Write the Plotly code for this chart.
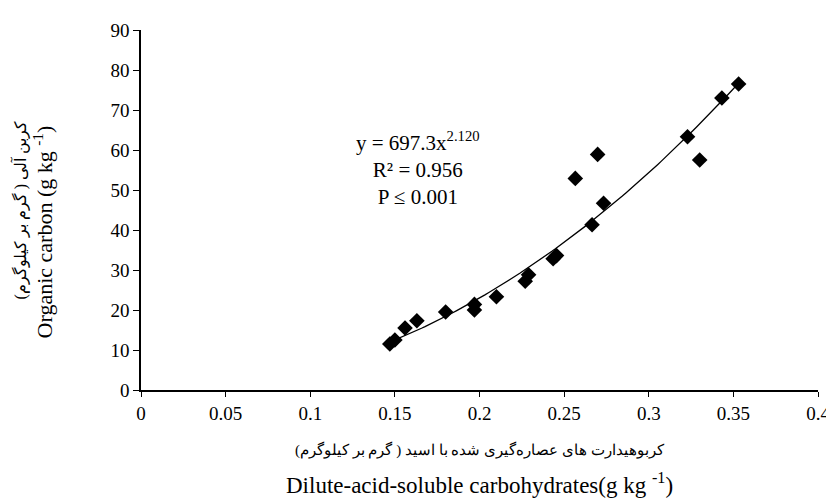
import numpy as np
import plotly.graph_objects as go

# Data
carbohydrates = [0.147, 0.150, 0.156, 0.163, 0.180, 0.197, 0.197, 0.210, 0.227, 0.229,
                 0.2435, 0.2455, 0.2665, 0.2733, 0.2566, 0.2698, 0.3229, 0.3301, 0.3432, 0.3531]
organic_carbon = [11.5, 12.5, 15.5, 17.3, 19.5, 20.0, 21.4, 23.3, 27.2, 28.8,
                  32.8, 33.6, 41.3, 46.7, 52.9, 58.9, 63.3, 57.5, 73.0, 76.5]

# Power trend-line from the reference equation
fit_a = 697.3
fit_b = 2.120
fit_x = np.linspace(min(carbohydrates), max(carbohydrates), 100)
fit_y = fit_a * fit_x ** fit_b

x_ticks = [0, 0.05, 0.1, 0.15, 0.2, 0.25, 0.3, 0.35, 0.4]
x_ticklabels = ["0", "0.05", "0.1", "0.15", "0.2", "0.25", "0.3", "0.35", "0.4"]
y_ticks = [0, 10, 20, 30, 40, 50, 60, 70, 80, 90]

FONT = "Liberation Serif, Times New Roman, serif"

fig = go.Figure()
fig.add_trace(go.Scatter(x=fit_x, y=fit_y, mode="lines",
                         line=dict(color="black", width=1.3), hoverinfo="skip"))
fig.add_trace(go.Scatter(x=carbohydrates, y=organic_carbon, mode="markers",
                         marker=dict(symbol="diamond", size=12, color="black")))

fig.update_layout(
    width=834, height=503,
    margin=dict(l=133, r=16, t=20, b=121),
    plot_bgcolor="white", paper_bgcolor="white",
    showlegend=False,
    font=dict(family=FONT, size=19, color="black"),
    xaxis=dict(range=[0, 0.4], tickvals=x_ticks, ticktext=x_ticklabels,
               showgrid=False, zeroline=False, showline=True, linecolor="black",
               linewidth=1.5, ticks="outside", ticklen=5, tickcolor="black",
               tickfont=dict(family=FONT, size=19)),
    yaxis=dict(range=[0, 90], tickvals=y_ticks,
               showgrid=False, zeroline=False, showline=True, linecolor="black",
               linewidth=1.5, ticks="outside", ticklen=6, tickcolor="black",
               tickfont=dict(family=FONT, size=19)),
)

fig.add_annotation(x=0.1635, y=55.3, xref="x", yref="y", showarrow=False,
                   text="y = 697.3x<sup>2.120</sup><br>R² = 0.956<br>P ≤ 0.001",
                   font=dict(family=FONT, size=21), align="center", yanchor="middle")

fig.add_annotation(x=0.5, y=-0.135, xref="paper", yref="paper", showarrow=False,
                   text="کربوهیدارت های عصاره‌گیری شده با اسید ( گرم بر کیلوگرم)",
                   font=dict(family=FONT, size=15), yanchor="top")
fig.add_annotation(x=0.5, y=-0.215, xref="paper", yref="paper", showarrow=False,
                   text="Dilute-acid-soluble carbohydrates(g kg <sup>-1</sup>)",
                   font=dict(family=FONT, size=23), yanchor="top")

fig.add_annotation(x=-0.145, y=0.44, xref="paper", yref="paper", showarrow=False,
                   text="Organic carbon (g kg <sup>-1</sup>)", textangle=-90,
                   font=dict(family=FONT, size=22), xanchor="center")
fig.add_annotation(x=-0.178, y=0.5, xref="paper", yref="paper", showarrow=False,
                   text="کربن آلی ( گرم بر کیلوگرم)", textangle=-90,
                   font=dict(family=FONT, size=16), xanchor="center")

fig.write_html("out.html")
